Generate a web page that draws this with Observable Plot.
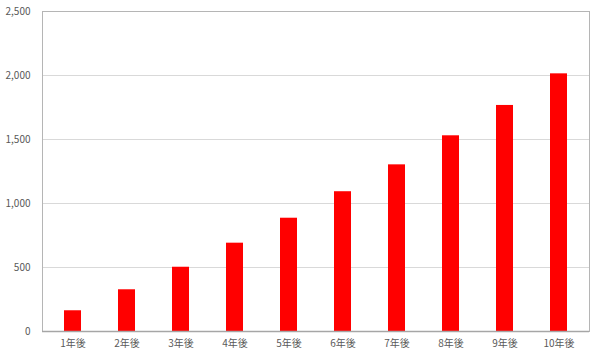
<!DOCTYPE html>
<html><head><meta charset="utf-8">
<script src="https://cdn.jsdelivr.net/npm/d3@7"></script>
<script src="https://cdn.jsdelivr.net/npm/@observablehq/plot@0.6"></script>
<style>body{margin:0;background:#fff;} svg{display:block;}</style>
</head><body><div id="chart"></div>
<script>
const categories = ["1年後","2年後","3年後","4年後","5年後","6年後","7年後","8年後","9年後","10年後"];
const values = [162, 326, 502, 690, 885, 1092, 1302, 1529, 1766, 2013];
const yTicks = [0, 500, 1000, 1500, 2000, 2500];
const data = categories.map((c, i) => ({c, v: values[i]}));
const chart = Plot.plot({
  width: 600, height: 360,
  marginLeft: 42, marginRight: 11, marginTop: 11, marginBottom: 29,
  style: {fontFamily: "'Noto Sans CJK JP', sans-serif", fontSize: "10px", color: "#595959", background: "#fff"},
  x: {domain: categories, paddingInner: 0.69, paddingOuter: 0.345, label: null, tickSize: 0, tickPadding: 8},
  y: {domain: [0, 2500], ticks: yTicks, tickFormat: d3.format(","), label: null, tickSize: 0, tickPadding: 12},
  marks: [
    Plot.gridY(yTicks, {stroke: "#d9d9d9", strokeOpacity: 1}),
    Plot.frame({stroke: "#b5b5b5"}),
    Plot.barY(data, {x: "c", y: "v", fill: "#ff0000"}),
    Plot.ruleY([0], {stroke: "#a6a6a6", strokeWidth: 1.5})
  ]
});
document.getElementById("chart").appendChild(chart);
</script></body></html>
